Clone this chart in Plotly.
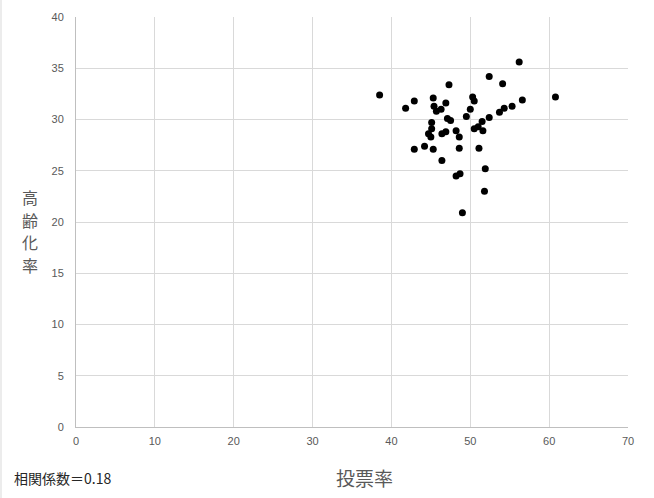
import plotly.graph_objects as go

# 投票率 (x) and 高齢化率 (y)
turnout = [38.5, 56.2, 52.4, 47.3, 54.1, 60.8, 42.9, 41.8, 45.3, 45.4,
           46.9, 46.3, 45.7, 50.3, 50.5, 50.0, 49.5, 47.1, 47.5, 45.1,
           45.1, 44.7, 45.0, 46.4, 46.9, 48.2, 48.6, 50.5, 51.0, 51.6,
           51.5, 52.4, 53.7, 54.3, 55.3, 56.6, 42.9, 44.2, 45.3, 48.6,
           51.1, 46.4, 51.9, 48.2, 48.7, 51.8, 49.0]
aging = [32.4, 35.6, 34.2, 33.4, 33.5, 32.2, 31.8, 31.1, 32.1, 31.3,
         31.6, 31.0, 30.8, 32.2, 31.8, 31.0, 30.3, 30.1, 29.9, 29.7,
         29.1, 28.6, 28.3, 28.6, 28.8, 28.9, 28.3, 29.1, 29.3, 28.9,
         29.8, 30.2, 30.7, 31.1, 31.3, 31.9, 27.1, 27.4, 27.1, 27.2,
         27.2, 26.0, 25.2, 24.5, 24.7, 23.0, 20.9]

x_ticks = [0, 10, 20, 30, 40, 50, 60, 70]
y_ticks = [0, 5, 10, 15, 20, 25, 30, 35, 40]

x_title = "投票率"
y_title = "高齢化率"
corr_text = "相関係数＝0.18"

W, H = 654, 498
L, R, T, B = 76, 26, 17, 71
PW, PH = W - L - R, H - T - B

def px_x(p):
    return (p - L) / PW

def px_y(p):
    return (H - B - p) / PH

fig = go.Figure()
fig.add_trace(go.Scatter(
    x=turnout, y=aging, mode="markers",
    marker=dict(color="black", size=7),
    showlegend=False, hoverinfo="x+y",
))

tick_font = dict(family="Liberation Sans, Arial, sans-serif", size=11, color="#595959")
fig.update_layout(
    width=W, height=H,
    margin=dict(l=L, r=R, t=T, b=B, pad=0),
    paper_bgcolor="white", plot_bgcolor="white",
    xaxis=dict(range=[0, 70], tickvals=x_ticks, showgrid=True, gridcolor="#d9d9d9",
               gridwidth=1, zeroline=False, showline=True, linecolor="#bfbfbf",
               linewidth=1, ticks="outside", ticklen=4, tickcolor="rgba(0,0,0,0)",
               tickfont=tick_font, fixedrange=True),
    yaxis=dict(range=[0, 40], tickvals=y_ticks, showgrid=True, gridcolor="#d9d9d9",
               gridwidth=1, zeroline=False, showline=True, linecolor="#bfbfbf",
               linewidth=1, ticks="outside", ticklen=9, tickcolor="rgba(0,0,0,0)",
               tickfont=tick_font, fixedrange=True),
)

cjk = "Noto Sans CJK JP, sans-serif"
# vertical (stacked) y-axis title, one character per line
char_rows = [197, 219.5, 242, 264.5]
for ch, row in zip(y_title, char_rows):
    fig.add_annotation(
        xref="paper", yref="paper", x=px_x(30), y=px_y(row),
        text=ch, showarrow=False, borderpad=0,
        font=dict(family=cjk, size=16, color="#595959"),
        xanchor="center", yanchor="middle",
    )
fig.add_annotation(
    xref="paper", yref="paper", x=px_x(364), y=px_y(477),
    text=x_title, showarrow=False,
    font=dict(family=cjk, size=19, color="#595959"),
    xanchor="center", yanchor="middle",
)
fig.add_annotation(
    xref="paper", yref="paper", x=px_x(12), y=px_y(478),
    text=corr_text, showarrow=False,
    font=dict(family=cjk, size=14, color="#262626"),
    xanchor="left", yanchor="middle",
)
fig.add_shape(
    type="line", xref="paper", yref="paper",
    x0=px_x(1), x1=px_x(1), y0=px_y(0), y1=px_y(H),
    line=dict(color="#d9d9d9", width=1),
)

fig.write_html(
    "out.html",
    config={"displayModeBar": False},
    post_script="document.body.style.margin='0';document.body.style.overflow='hidden';",
)
